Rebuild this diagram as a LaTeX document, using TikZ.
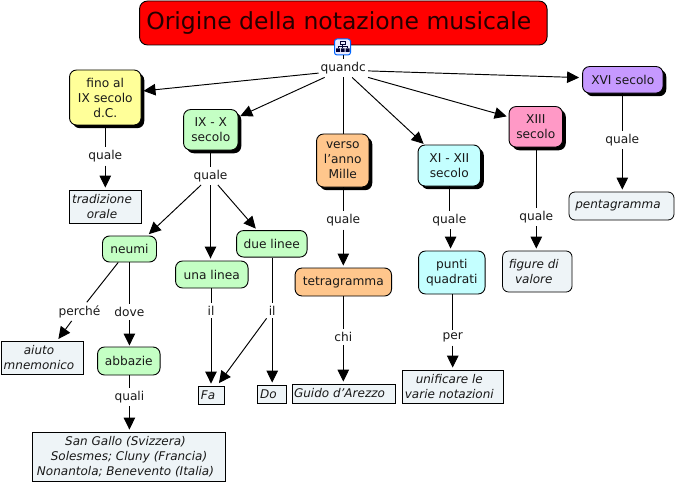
\documentclass[tikz,border=0pt]{standalone}
\usepackage{fontspec}
\setmainfont{DejaVu Sans}
\usetikzlibrary{arrows.meta,shadows}
\definecolor{cyel}{HTML}{FFFF99}
\definecolor{cgrn}{HTML}{C4FFC4}
\definecolor{corg}{HTML}{FFC68C}
\definecolor{ccyn}{HTML}{C4FFFF}
\definecolor{cpnk}{HTML}{FF99C6}
\definecolor{cpur}{HTML}{C699FF}
\definecolor{cleaf}{HTML}{EEF4F7}
\newcommand{\lsh}[1]{#1\hspace*{7pt}}
\tikzset{
  x=1pt,y=-1pt,
  every node/.style={font=\fontsize{12.2}{15}\selectfont,align=center,inner sep=0pt,text=black!90},
  boxn/.style={draw=black,line width=.9pt,rounded corners=7pt},
  shad/.style={boxn,general shadow={shadow xshift=3.2pt,shadow yshift=-3.2pt,fill=black,rounded corners=7pt}},
  leaf/.style={draw=black,line width=.8pt,fill=cleaf,font=\fontsize{12}{15}\selectfont\itshape},
  leafr/.style={leaf,rounded corners=6pt},
  lbl/.style={inner xsep=2pt,inner ysep=3pt},
  con/.style={line width=.95pt,black},
  arr/.style={con,shorten >=2pt,-{Triangle[width=11.5pt,length=12pt]}},
}
\begin{document}
\begin{tikzpicture}
\useasboundingbox (0,0) rectangle (677,484);
\path[fill=white] (0,0) rectangle (677,484);
% title
\node[draw=black,line width=.9pt,rounded corners=8pt,fill=red,minimum width=407.5pt,minimum height=44pt,font=\fontsize{23.5}{28}\selectfont,text=black!85!red] (title) at (343.3,23) {Origine della notazione musicale\hspace*{9pt}};
% top concept nodes
\node[shad,fill=cyel,minimum width=71.5pt,minimum height=55pt] (fino) at (105.3,97.5) {fino al\\IX secolo\\d.C.};
\node[shad,fill=cgrn,minimum width=54.5pt,minimum height=40.5pt] (ix) at (210.8,129.8) {IX - X\\secolo};
\node[shad,fill=corg,minimum width=52.5pt,minimum height=53pt] (verso) at (342.8,160.5) {verso\\l'anno\\Mille};
\node[shad,fill=ccyn,minimum width=62.5pt,minimum height=41pt] (xi) at (449.3,165.5) {XI - XII\\secolo};
\node[shad,fill=cpnk,minimum width=53.5pt,minimum height=40.5pt] (xiii) at (535.8,126.8) {XIII\\secolo};
\node[shad,fill=cpur,minimum width=80.5pt,minimum height=26.5pt] (xvi) at (622.8,79.8) {XVI secolo};
% second level
\node[boxn,fill=cgrn,minimum width=54pt,minimum height=26pt] (neumi) at (129.5,249) {neumi};
\node[boxn,fill=cgrn,minimum width=72.5pt,minimum height=27pt] (una) at (211.8,274.5) {una linea};
\node[boxn,fill=cgrn,minimum width=70.5pt,minimum height=26.5pt] (due) at (271.8,243.8) {due linee};
\node[boxn,fill=cgrn,minimum width=62.5pt,minimum height=28pt] (abb) at (128.8,361) {abbazie};
\node[boxn,fill=corg,minimum width=96.5pt,minimum height=28pt] (tetra) at (343.3,282) {tetragramma};
\node[boxn,fill=ccyn,minimum width=66.5pt,minimum height=43pt] (punti) at (451.8,272.5) {punti\\quadrati};
% leaves
\node[leaf,minimum width=72pt,minimum height=33pt] (trad) at (105.5,206.5) {\lsh{tradizione}\\\lsh{orale}};
\node[leaf,minimum width=82pt,minimum height=33pt] (aiuto) at (42.5,357.5) {\lsh{aiuto}\\\lsh{mnemonico}};
\node[leaf,minimum width=26pt,minimum height=18pt] (fa) at (211.5,395) {\lsh{Fa}};
\node[leaf,minimum width=29pt,minimum height=18pt] (do) at (272,394) {\lsh{Do}};
\node[leaf,minimum width=103pt,minimum height=19pt] (guido) at (344,393.5) {\lsh{Guido d'Arezzo}\hspace*{2pt}};
\node[leaf,minimum width=193pt,minimum height=49pt] (gallo) at (129,456.5) {\lsh{San Gallo (Svizzera)}\\\lsh{Solesmes; Cluny (Francia)}\\\lsh{Nonantola; Benevento (Italia)}};
\node[leaf,minimum width=100.5pt,minimum height=33pt] (unif) at (452.8,386.5) {\lsh{unificare le}\\\lsh{varie notazioni}};
\node[leafr,minimum width=69.5pt,minimum height=41pt] (fig) at (537.3,271.5) {\lsh{figure di}\\\lsh{valore}};
\node[leafr,minimum width=105pt,minimum height=28pt] (penta) at (621.5,206) {\lsh{pentagramma}};
% icon
\node[draw=blue!60!cyan,line width=1pt,fill=blue!8,rounded corners=2.5pt,minimum size=16pt] (icon) at (342.5,47) {};
\draw[line width=.9pt,black!80!blue] (340.5,41.5) rectangle (345,44.5) (342.7,44.5)--(342.7,46.5) (338,46.5)--(347.5,46.5) (338,46.5)--(338,48.5) (347.5,46.5)--(347.5,48.5) (342.7,46.5)--(342.7,48.5);
\fill[black!80!blue] (336,48.5) rectangle (340,52) (341,48.5) rectangle (344.5,52) (345.5,48.5) rectangle (349.5,52);
% linking labels
\node[lbl] (qq) at (343.3,68.3) {quandc};
\node[lbl] (q1) at (105.3,156.6) {quale};
\node[lbl] (q2) at (210.5,175.9) {quale};
\node[lbl] (perche) at (79.5,311.6) {perché};
\node[lbl] (dove) at (129.4,312.1) {dove};
\node[lbl] (quali) at (129.4,397.3) {quali};
\node[lbl] (il1) at (211,310.5) {il};
\node[lbl] (il2) at (272.2,310.5) {il};
\node[lbl] (q3) at (343.3,220.6) {quale};
\node[lbl] (chi) at (343.3,337) {chi};
\node[lbl] (q4) at (449.4,219.9) {quale};
\node[lbl] (per) at (452.7,337.8) {per};
\node[lbl] (q5) at (536.3,217.3) {quale};
\node[lbl] (q6) at (622.3,139.9) {quale};
% connectors
\draw[con] (icon.south -| qq) -- (qq.north);
\draw[arr] (qq.191) -- (fino.10);
\draw[arr] (qq.206) -- (ix.25);
\draw[con] (qq.south) -- (verso.north -| qq);
\draw[arr,shorten >=1pt] (qq.314) -- (xi.140);
\draw[arr] (qq.south east) -- (xiii.160);
\draw[arr,shorten >=3pt] (qq.354) -- (xvi.177);
\draw[con] (fino.south -| q1) -- (q1.north); \draw[arr] (q1.south) -- (trad.north -| q1);
\draw[con] (ix.south -| q2) -- (q2.north);
\draw[arr] (q2.224) -- (neumi.37);
\draw[arr] (q2.south) -- (una.north -| q2);
\draw[arr] (q2.309) -- (due.137);
\draw[con] (neumi.230) -- (perche.52); \draw[arr] (perche.230) -- (aiuto.49);
\draw[con] (neumi.south -| dove) -- (dove.north); \draw[arr,shorten >=1pt] (dove.south) -- (abb.north -| dove);
\draw[con] (abb.south -| quali) -- (quali.north); \draw[arr] (quali.south) -- (gallo.north -| quali);
\draw[con] (una.south -| il1) -- (il1.north); \draw[arr] (il1.south) -- (fa.north -| il1);
\draw[con] (due.south -| il2) -- (il2.north); \draw[arr] (il2.south) -- (do.north -| il2);
\draw[arr,shorten >=3pt] (il2.south west) -- (fa.59);
\draw[con] (verso.south -| q3) -- (q3.north); \draw[arr] (q3.south) -- (tetra.north -| q3);
\draw[con] (tetra.south -| chi) -- (chi.north); \draw[arr] (chi.south) -- (guido.north -| chi);
\draw[con] (xi.south -| q4) -- (q4.north); \draw[arr] ([xshift=1.2pt]q4.south) -- ([xshift=1.2pt]punti.north -| q4);
\draw[con] (punti.south -| per) -- (per.north); \draw[arr] (per.south) -- (unif.north -| per);
\draw[con] (xiii.south -| q5) -- (q5.north); \draw[arr] (q5.south) -- (fig.north -| q5);
\draw[con] (xvi.south -| q6) -- (q6.north); \draw[arr] (q6.south) -- (penta.north -| q6);
\end{tikzpicture}
\end{document}
